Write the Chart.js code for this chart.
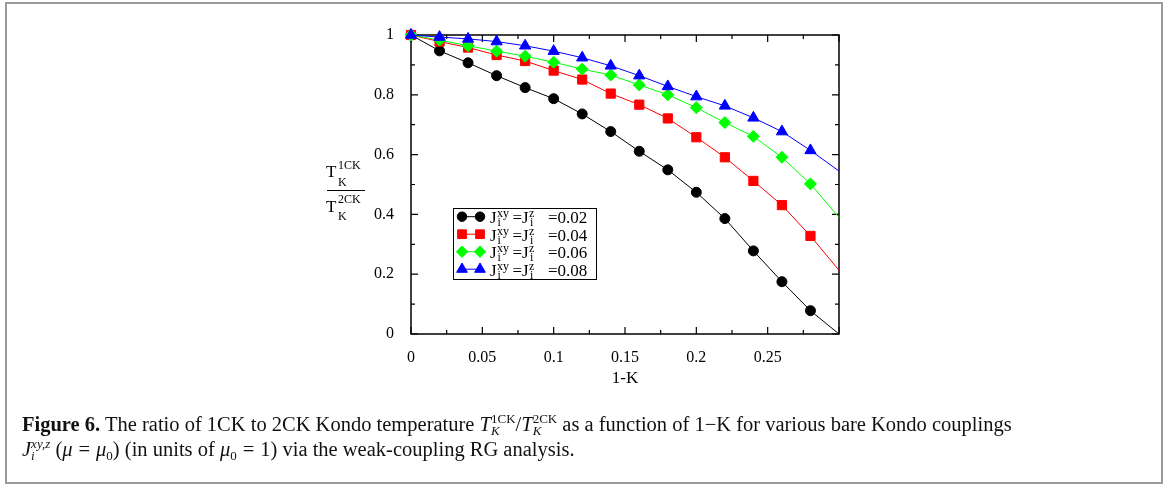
<!DOCTYPE html>
<html>
<head>
<meta charset="utf-8">
<script src="https://cdn.jsdelivr.net/npm/chart.js@4.4.1/dist/chart.umd.min.js"></script>
<style>
  html, body { margin: 0; padding: 0; background: #fff; }
  body { width: 1168px; height: 484px; position: relative; overflow: hidden; font-family: 'Liberation Serif', 'Times New Roman', serif; }
  #frame { position: absolute; left: 5px; top: 2px; width: 1154px; height: 478px; border: 2px solid #9a9a9a; }
  #plot { position: absolute; left: 0; top: 0; }
  #caption { position: absolute; left: 22px; top: 412px; font-size: 20.5px; line-height: 24px; color: #111; white-space: nowrap; }
  #caption sub { font-size: 13px; line-height: 0; vertical-align: -4px; }
  .ss { display: inline-flex; flex-direction: column; font-size: 13px; line-height: 12px; vertical-align: 8px; }
  .eq { margin: 0 6px; }
</style>
</head>
<body>
<div id="frame"></div>
<canvas id="plot" width="1168" height="484"></canvas>
<div id="caption"><b>Figure 6.</b> The ratio of 1CK to 2CK Kondo temperature <i>T</i><span class="ss"><span>1CK</span><i>K</i></span>/<i>T</i><span class="ss"><span>2CK</span><i>K</i></span> as a function of 1−K for various bare Kondo couplings<br><i>J</i><span class="ss"><i>xy,z</i><i>i</i></span>&nbsp;(<i>μ</i><span class="eq">=</span><i>μ</i><sub>0</sub>) (in units of <i>μ</i><sub>0</sub><span class="eq">=</span>1) via the weak-coupling RG analysis.</div>
<script>
/* ---- data ---- */
const oneMinusK = [0, 0.02, 0.04, 0.06, 0.08, 0.10, 0.12, 0.14, 0.16, 0.18, 0.20, 0.22, 0.24, 0.26, 0.28, 0.30];
const ratioJ002 = [1, 0.947, 0.907, 0.864, 0.824, 0.787, 0.736, 0.677, 0.611, 0.549, 0.474, 0.386, 0.278, 0.175, 0.078, 0];
const ratioJ004 = [1, 0.978, 0.958, 0.933, 0.913, 0.881, 0.851, 0.804, 0.767, 0.721, 0.658, 0.591, 0.512, 0.431, 0.328, 0.213];
const ratioJ006 = [1, 0.983, 0.964, 0.946, 0.929, 0.909, 0.886, 0.866, 0.833, 0.800, 0.757, 0.707, 0.661, 0.591, 0.502, 0.390];
const ratioJ008 = [1, 0.993, 0.987, 0.978, 0.964, 0.946, 0.924, 0.897, 0.864, 0.828, 0.794, 0.763, 0.723, 0.677, 0.614, 0.545];
const couplings = ['0.02', '0.04', '0.06', '0.08'];
const xTickLabels = ['0', '0.05', '0.1', '0.15', '0.2', '0.25'];
const yTickLabels = ['0', '0.2', '0.4', '0.6', '0.8', '1'];

const cores = ['#000000', '#ff0000', '#00ff00', '#0000ff'];
const marcadores = ['circle', 'rect', 'rectRot', 'triangle'];
const raios = [5, 6.5, 6, 6.5];
const serif = "'Liberation Serif', 'Times New Roman', serif";

const series = [ratioJ002, ratioJ004, ratioJ006, ratioJ008];
const ultimo = oneMinusK.length - 1;

const datasets = series.map((vals, k) => ({
  label: couplings[k],
  data: oneMinusK.map((x, i) => ({ x, y: vals[i] })),
  borderColor: cores[k],
  backgroundColor: cores[k],
  borderWidth: 1,
  pointStyle: marcadores[k],
  pointRadius: ctx => (ctx.dataIndex === ultimo ? 0 : raios[k]),
  pointBorderWidth: 1,
  pointBackgroundColor: cores[k],
  tension: 0,
  clip: false,
  order: 4 - k
}));

// moldura + ticks para dentro nos quatro lados
const molduraPlugin = {
  id: 'moldura',
  beforeDatasetsDraw(chart) {
    const { ctx, chartArea: a, scales: { x, y } } = chart;
    ctx.save();
    ctx.strokeStyle = '#000';
    ctx.lineWidth = 1.5;
    ctx.strokeRect(a.left, a.top, a.right - a.left, a.bottom - a.top);
    ctx.lineWidth = 1.2;
    ctx.beginPath();
    for (let i = 0; i <= 12; i++) {
      const px = x.getPixelForValue(i * 0.025);
      const len = i % 2 === 0 ? 7 : 4;
      ctx.moveTo(px, a.bottom); ctx.lineTo(px, a.bottom - len);
      ctx.moveTo(px, a.top); ctx.lineTo(px, a.top + len);
    }
    for (let i = 0; i <= 10; i++) {
      const py = y.getPixelForValue(i * 0.1);
      const len = i % 2 === 0 ? 7 : 4;
      ctx.moveTo(a.left, py); ctx.lineTo(a.left + len, py);
      ctx.moveTo(a.right, py); ctx.lineTo(a.right - len, py);
    }
    ctx.stroke();
    ctx.restore();
  },
  afterDraw(chart) {
    const { ctx, chartArea: a } = chart;
    ctx.save();
    ctx.fillStyle = '#000';
    ctx.strokeStyle = '#000';
    ctx.textBaseline = 'alphabetic';

    // título do eixo x
    ctx.font = `17px ${serif}`;
    ctx.textAlign = 'center';
    ctx.fillText('1-K', (a.left + a.right) / 2, 383);

    // título do eixo y (fração)
    ctx.textAlign = 'left';
    ctx.font = `17px ${serif}`;
    ctx.fillText('T', 326, 177);
    ctx.fillText('T', 326, 212);
    ctx.font = `12px ${serif}`;
    ctx.fillText('1CK', 338, 169);
    ctx.fillText('K', 338, 186);
    ctx.fillText('2CK', 338, 203);
    ctx.fillText('K', 338, 220);
    ctx.lineWidth = 1;
    ctx.beginPath();
    ctx.moveTo(327, 190.5); ctx.lineTo(365, 190.5);
    ctx.stroke();

    // legenda
    ctx.strokeRect(453.5, 208.5, 143, 71);
    chart.data.datasets.forEach((ds, k) => {
      const cy = 216.7 + 17.5 * k;
      const base = cy + 6.5;
      ctx.strokeStyle = ds.borderColor;
      ctx.lineWidth = 1;
      ctx.beginPath();
      ctx.moveTo(462, cy); ctx.lineTo(480, cy);
      ctx.stroke();
      ctx.fillStyle = ds.borderColor;
      [462, 480].forEach(px => Chart.helpers.drawPoint(ctx, {
        pointStyle: ds.pointStyle, radius: raios[k] * 0.95, rotation: 0, borderWidth: 1
      }, px, cy));
      ctx.fillStyle = '#000';
      ctx.font = `17px ${serif}`;
      ctx.fillText('J', 490, base);
      ctx.fillText('=J', 512.5, base);
      ctx.fillText('=' + ds.label, 548, base);
      ctx.font = `12px ${serif}`;
      ctx.fillText('xy', 497, base - 6);
      ctx.fillText('i', 497.5, base + 3);
      ctx.fillText('z', 529, base - 6);
      ctx.fillText('i', 530, base + 3);
    });
    ctx.restore();
  }
};

new Chart(document.getElementById('plot'), {
  type: 'line',
  data: { datasets },
  options: {
    responsive: false,
    animation: false,
    events: [],
    layout: { padding: { left: 371, right: 329, top: 35, bottom: 110 } },
    plugins: { legend: { display: false }, tooltip: { enabled: false } },
    scales: {
      x: {
        type: 'linear', min: 0, max: 0.3,
        grid: { display: false }, border: { display: false },
        ticks: {
          stepSize: 0.05, autoSkip: false, maxRotation: 0, padding: 6,
          color: '#000', font: { family: serif, size: 16 },
          callback: v => xTickLabels[Math.round(v / 0.05)] ?? ''
        },
        afterFit: s => { s.height = 40; }
      },
      y: {
        type: 'linear', min: 0, max: 1,
        grid: { display: false }, border: { display: false },
        ticks: {
          stepSize: 0.2, autoSkip: false, padding: 9,
          color: '#000', font: { family: serif, size: 16 },
          callback: v => yTickLabels[Math.round(v / 0.2)] ?? ''
        },
        afterFit: s => { s.width = 40; }
      }
    }
  },
  plugins: [molduraPlugin]
});
</script>
</body>
</html>
